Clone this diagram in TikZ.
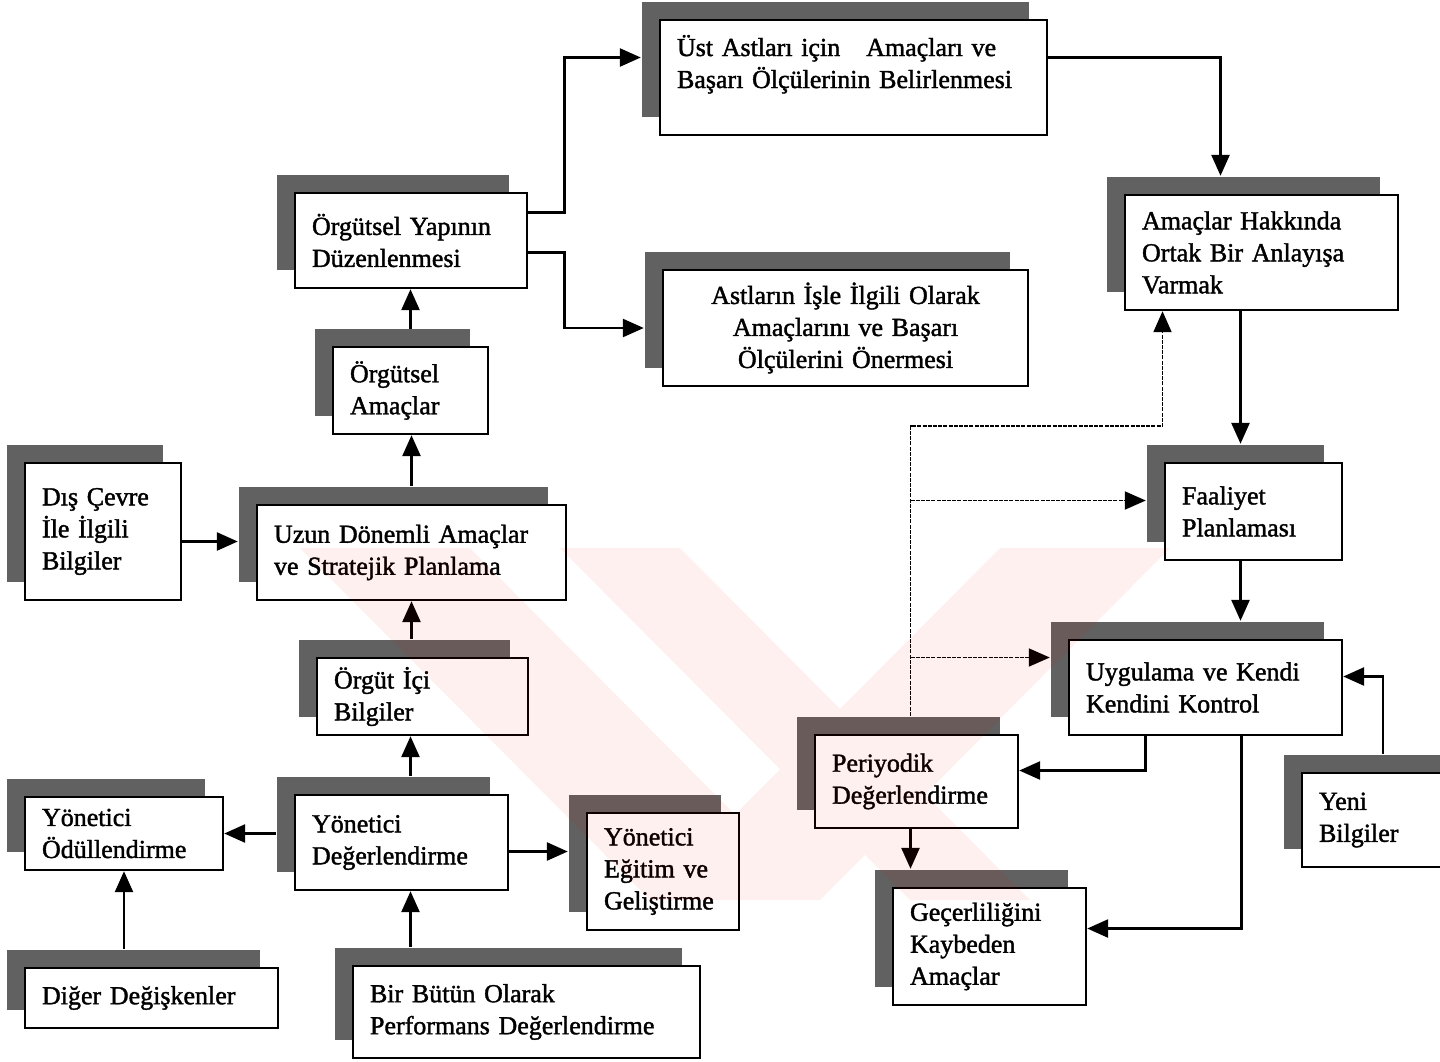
\documentclass[tikz,border=0pt]{standalone}
\usepackage{fontspec}
\setmainfont{Liberation Serif}
\newfontfamily\baski{Liberation Serif}[FakeBold=1.5, WordSpace=0.8]
\usetikzlibrary{arrows.meta,shadows,calc}
\hyphenpenalty=10000

\tikzset{
  kutu/.style={draw, line width=2.4pt, fill=white, inner xsep=17pt, inner ysep=0pt,
    align=left, font=\baski\fontsize{26}{32}\selectfont,
    drop shadow={shadow xshift=-18pt, shadow yshift=18pt, fill=black!62, opacity=1}},
  ok/.style={line width=2.6pt, -{Triangle[length=21pt, width=18pt]}},
  geri/.style={line width=1.9pt, dash pattern=on 4pt off 1.2pt, -{Triangle[length=21pt, width=18pt]}},
  filigran/.style={fill=red, fill opacity=0.06}
}

\begin{document}
\begin{tikzpicture}[x=1pt, y=-1pt]
\useasboundingbox (0,0) rectangle (1440,1061);

% Sol taraf
\node[kutu, text width=198pt, minimum height=95pt] (orgyap) at (411,240.5) {Örgütsel Yapının\\ Düzenlenmesi};
\node[kutu, text width=121pt, minimum height=87pt] (orgamac) at (410.5,390.5) {Örgütsel\\ Amaçlar};
\node[kutu, text width=122pt, minimum height=137pt] (dis) at (103,531.5) {Dış Çevre\\ İle İlgili\\ Bilgiler};
\node[kutu, text width=275pt, minimum height=95pt] (uzun) at (411.5,552.5) {Uzun Dönemli Amaçlar\\ ve Stratejik Planlama};
\node[kutu, text width=177pt, minimum height=77pt] (orgici) at (422.5,696.5) {Örgüt İçi\\ Bilgiler};
\node[kutu, text width=164pt, minimum height=73pt] (yodul) at (124,833.5) {Yönetici\\ Ödüllendirme};
\node[kutu, text width=179pt, minimum height=95pt] (yodeg) at (401.5,842.5) {Yönetici\\ Değerlendirme};
\node[kutu, text width=118pt, minimum height=117pt] (yegit) at (663,871.5) {Yönetici\\ Eğitim ve\\ Geliştirme};
\node[kutu, text width=219pt, minimum height=60pt] (diger) at (151.5,998) {Diğer Değişkenler};
\node[kutu, text width=313pt, minimum height=92pt] (butun) at (526.5,1012) {Bir Bütün Olarak\\ Performans Değerlendirme};

% Ust taraf
\node[kutu, text width=353pt, minimum height=115pt] (ust) at (853.5,77.5) {Üst Astları için\quad Amaçları ve\\ Başarı Ölçülerinin Belirlenmesi\\ \mbox{}};
\node[kutu, text width=331pt, minimum height=116pt, align=center] (astlar) at (845.5,328) {Astların İşle İlgili Olarak\\ Amaçlarını ve Başarı\\ Ölçülerini Önermesi};

% Sag taraf
\node[kutu, text width=239pt, minimum height=115pt] (amachk) at (1261.5,252.5) {Amaçlar Hakkında\\ Ortak Bir Anlayışa\\ Varmak};
\node[kutu, text width=143pt, minimum height=97pt] (faal) at (1253.5,511.5) {Faaliyet\\ Planlaması};
\node[kutu, text width=239pt, minimum height=95pt] (uyg) at (1205.5,687.5) {Uygulama ve Kendi\\ Kendini Kontrol};
\node[kutu, text width=169pt, minimum height=93pt] (period) at (916.5,781.5) {Periyodik\\ Değerlendirme};
\node[kutu, text width=124pt, minimum height=94pt] (yeni) at (1381,820) {Yeni\\ Bilgiler};
\node[kutu, text width=159pt, minimum height=117pt] (gecer) at (989.5,946.5) {Geçerliliğini\\ Kaybeden\\ Amaçlar};

% Sol sutun oklari
\draw[ok] ($(orgamac.north)+(0,-17)$) -- (orgamac.north |- orgyap.south);
\draw[ok] ($(uzun.north)+(0,-18)$) -- (uzun.north |- orgamac.south);
\draw[ok] ($(uzun.south |- orgici.north)+(0,-18)$) -- (uzun.south);
\draw[ok] ($(yodeg.north)+(9,-18)$) -- ($(yodeg.north |- orgici.south)+(9,0)$);
\draw[ok] ($(yodeg.south |- butun.north)+(9,-18)$) -- ($(yodeg.south)+(9,0)$);
\draw[ok] ($(yodeg.west |- yodul.east)+(-18,0)$) -- (yodul.east);
\draw[ok] ($(yodeg.east)+(0,9)$) -- ($(yegit.west |- yodeg.east)+(-18,9)$);
\draw[ok] ($(yodul.south |- diger.north)+(0,-18)$) -- (yodul.south);
\draw[ok] ($(dis.east)+(0,10)$) -- ($(uzun.west |- dis.east)+(-18,10)$);

% Ust oklar
\draw[ok] ($(orgyap.east)+(0,-28)$) -- ++(36,0) |- ($(ust.west)+(-18,-20)$);
\draw[ok] ($(orgyap.east)+(0,12)$) -- ++(36,0) |- ($(astlar.west)+(-18,0)$);
\draw[ok] ($(ust.east)+(0,-20)$) -| ($(amachk.north)+(-41,-18)$);

% Sag oklar
\draw[ok] ($(amachk.south)+(-21,0)$) -- ($(faal.north)+(-13,-18)$);
\draw[ok] ($(faal.south)+(-13,0)$) -- ($(uyg.north)+(35,-18)$);
\draw[ok] ($(uyg.south)+(-60,0)$) |- ($(period.east)+(0,-11)$);
\draw[ok] ($(uyg.south)+(36,0)$) |- ($(gecer.east)+(0,-18)$);
\draw[ok] ($(yeni.north)+(2,-18)$) |- ($(uyg.east)+(0,-11)$);
\draw[ok] ($(period.south)+(-6,0)$) -- ($(gecer.north)+(-79,-18)$);

% Geri besleme
\coordinate (gb) at ($(period.north)+(-6,-18)$);
\draw[geri] (gb) |- ($(amachk.south)+(-99,115)$) -- ($(amachk.south)+(-99,0)$);
\draw[geri] ($(gb |- faal.west)+(0,-11)$) -- ($(faal.west)+(-18,-11)$);
\draw[geri] ($(gb |- uyg.west)+(0,-30)$) -- ($(uyg.west)+(-18,-30)$);

% Filigran
\begin{scope}
  \clip (255,548) rectangle (1250,900);
  \fill[filigran] (300,548) -- (470,548) -- (820,900) -- (650,900) -- cycle
    (560,548) -- (680,548) -- (1030,900) -- (910,900) -- cycle
    (1000,548) -- (1170,548) -- (820,900) -- (650,900) -- cycle;
\end{scope}
\end{tikzpicture}
\end{document}
